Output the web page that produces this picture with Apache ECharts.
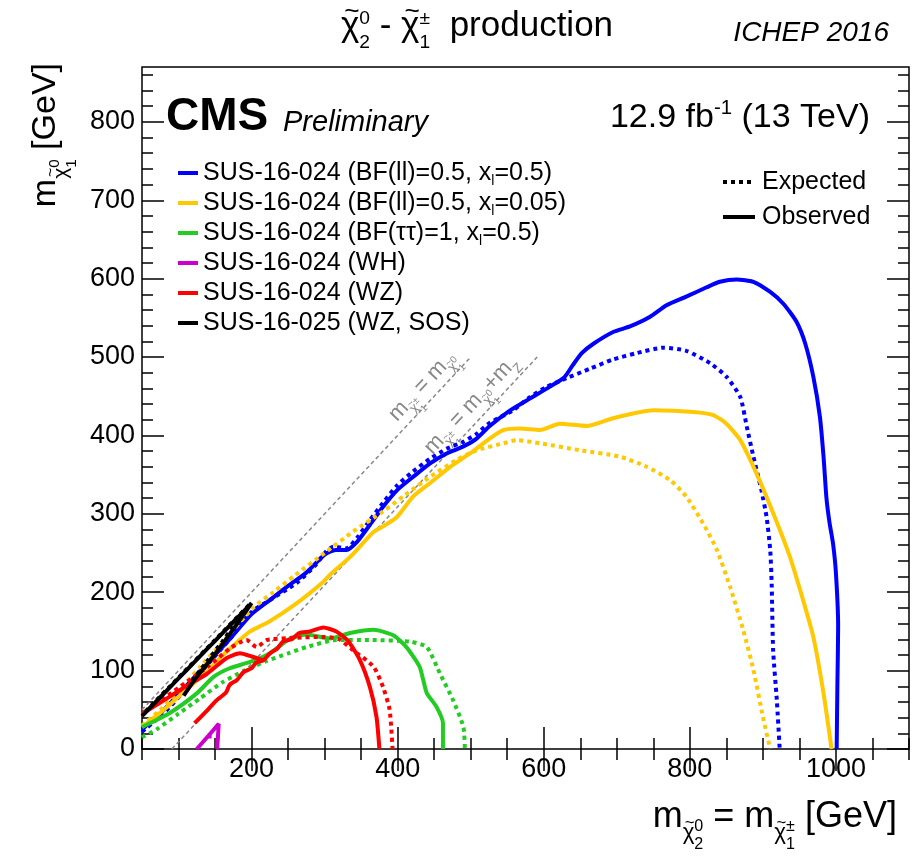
<!DOCTYPE html>
<html><head><meta charset="utf-8">
<script src="https://cdn.jsdelivr.net/npm/echarts@6/dist/echarts.min.js"></script>
<style>html,body{margin:0;padding:0;background:#fff}#c{width:917px;height:858px}</style>
</head><body><div id="c"></div>
<script>
// ---------------- data (GeV) ----------------
const xMajorTicks = [200, 400, 600, 800, 1000];
const yMajorTicks = [0, 100, 200, 300, 400, 500, 600, 700, 800];
const xRange = [50, 1100];
const yRange = [0, 870];

const legendNames = [
  'SUS-16-024 (BF(ll)=0.5, x{s|l}=0.5)',
  'SUS-16-024 (BF(ll)=0.5, x{s|l}=0.05)',
  'SUS-16-024 (BF(\u03C4\u03C4)=1, x{s|l}=0.5)',
  'SUS-16-024 (WH)',
  'SUS-16-024 (WZ)',
  'SUS-16-025 (WZ, SOS)'
];
const styleLegend = ['Expected', 'Observed'];

const blueObs = [[50,25],[80,50],[110,80],[140,110],[170,140],[200,172],[225,190],[250,208],[275,225],[300,248],[315,254],[330,254],[345,265],[362,286],[380,309],[399,330],[421,347],[444,364],[467,377],[490,386],[508,396],[526,412],[554,432],[581,447],[608,462],[628,474],[640,490],[652,505],[668,517],[695,532],[718,539],[745,551],[768,566],[795,577],[823,589],[841,596],[864,599],[887,596],[910,583],[928,568],[946,545],[958,517],[969,475],[978,424],[983,373],[987,320],[991,290],[996,262],[1000,224],[1003,156],[1002,84],[1001,0]];
const blueExp = [[50,22],[80,46],[110,76],[140,108],[170,140],[200,175],[225,190],[262,212],[289,236],[300,250],[312,258],[330,256],[345,270],[362,292],[380,314],[399,336],[421,354],[444,370],[467,383],[490,392],[508,402],[526,416],[558,432],[581,449],[604,462],[631,473],[663,485],[695,497],[727,505],[764,512],[795,508],[828,492],[850,475],[869,449],[878,411],[887,373],[898,330],[905,296],[910,254],[912,211],[914,126],[919,63],[923,0]];
const yellowObs = [[50,28],[80,50],[110,75],[140,100],[161,120],[180,136],[198,150],[225,163],[262,186],[298,213],[307,222],[335,245],[367,277],[380,284],[399,296],[421,322],[444,339],[472,360],[499,377],[526,396],[545,407],[567,409],[595,407],[622,415],[659,412],[695,422],[750,432],[805,430],[832,426],[850,415],[869,394],[891,352],[914,301],[937,245],[955,190],[969,143],[983,71],[994,0]];
const yellowExp = [[50,30],[75,50],[102,76],[130,105],[160,136],[202,180],[230,200],[260,222],[300,250],[340,278],[380,303],[410,324],[444,347],[481,369],[508,381],[545,390],[563,394],[595,390],[650,381],[704,373],[741,360],[773,343],[795,322],[818,288],[837,254],[855,207],[873,152],[887,101],[900,41],[910,0]];
const greenObs = [[50,28],[88,46],[125,71],[148,92],[170,103],[198,111],[225,122],[253,141],[276,146],[307,141],[335,148],[367,152],[394,145],[412,130],[430,105],[435,88],[440,71],[453,54],[462,33],[462,0]];
const greenExp = [[50,15],[70,25],[100,45],[130,65],[160,85],[190,100],[220,112],[250,122],[275,130],[316,139],[362,139],[417,137],[440,130],[458,96],[476,62],[490,28],[492,0]];
const magentaObs = [[125,0],[140,16],[155,32],[154,16],[153,0]];
const magentaExp = [[140,16],[158,16]];
const redObsLeft = [[50,45],[80,62],[110,80],[139,96],[166,116],[184,122],[200,118],[216,113]];
const redObs = [[122,33],[140,50],[152,62],[165,72],[170,82],[180,88],[189,98],[200,103],[206,110],[216,113],[225,122],[235,128],[243,137],[255,140],[265,148],[280,150],[298,155],[316,150],[332,138],[348,114],[362,79],[371,41],[375,0]];
const redExp = [[50,45],[100,78],[140,105],[170,128],[193,139],[207,130],[221,139],[262,142],[300,143],[320,140],[339,126],[367,105],[380,79],[389,50],[393,0]];
const blackObs = [[50,42],[75,66],[100,90],[125,114],[150,138],[175,162],[200,186],[185,166],[165,140],[145,115],[125,92],[107,68]];
const blackExp = [[55,48],[100,91],[150,139],[197,184],[180,163],[160,137],[140,113],[118,86]];
const diagLSP = [[50,50],[500,500]];
const diagZ = [[91,0],[591,500]];

// ---------------- helpers ----------------
const FONT = '"Liberation Sans", Arial, Helvetica, sans-serif';
const BLUE = '#0000ff', YELLOW = '#ffc800', GREEN = '#22cc22', MAGENTA = '#cc00cc', RED = '#ff0000', BLACK = '#000000';
const mctx = document.createElement('canvas').getContext('2d');
function fontStr(size, style, weight) { return (style || 'normal') + ' ' + (weight || 'normal') + ' ' + size + 'px ' + FONT; }
function tw(t, size, style, weight) { mctx.font = fontStr(size, style, weight); return mctx.measureText(t).width; }
function T(t, x, baseY, size, o) {
  o = o || {};
  return { type: 'text', x: x, y: baseY - 0.35 * size, silent: true,
    style: { text: t, font: fontStr(size, o.style, o.weight), fill: o.color || '#000', align: o.align || 'left', verticalAlign: 'middle' } };
}
// tokens: {t, s, dy, tilde} or {stack:[{t,s,dy},...]}; dy in units of base size (positive = down)
function formula(tokens, base, o) {
  o = o || {};
  let x = 0; const ch = [];
  tokens.forEach(tk => {
    if (tk.stack) {
      let w = 0;
      tk.stack.forEach(p => {
        const sz = base * p.s;
        ch.push(T(p.t, x, p.dy * base, sz, o));
        w = Math.max(w, tw(p.t, sz, o.style, o.weight));
      });
      x += w;
    } else {
      const sz = base * (tk.s || 1);
      const w = tw(tk.t, sz, o.style, o.weight);
      const by = (tk.dy || 0) * base;
      ch.push(T(tk.t, x, by, sz, o));
      if (tk.tilde) {
        const ts = sz * 0.75;
        ch.push({ type: 'text', x: x + w / 2 + sz * 0.05, y: by - 0.78 * sz, silent: true,
          style: { text: '~', font: fontStr(ts, o.style, o.weight), fill: o.color || '#000', align: 'center', verticalAlign: 'middle' } });
      }
      x += w;
    }
  });
  return { children: ch, width: x };
}
function chiSub(sup, sub, s) {
  s = s || 0.62;
  return [{ t: '\u03C7', s: s, dy: 0.3, tilde: true },
          { stack: [{ t: sup, s: s * 0.72, dy: 0.05 }, { t: sub, s: s * 0.72, dy: 0.57 }] }];
}

// ---------------- chart ----------------
const chart = echarts.init(document.getElementById('c'), null, { renderer: 'canvas' });

const xMinor = [], yMinor = [];
for (let v = xRange[0]; v <= xRange[1]; v += 50) if (xMajorTicks.indexOf(v) < 0) xMinor.push(v);
for (let v = 20; v < yRange[1]; v += 20) if (v % 100 !== 0) yMinor.push(v);

function mkAxis(kind, pos, ticks, len, labels) {
  const range = kind === 'x' ? xRange : yRange;
  const a = { type: 'value', min: range[0], max: range[1], position: pos,
    axisLine: { show: false }, splitLine: { show: false },
    axisTick: { show: true, inside: true, length: len, customValues: ticks, lineStyle: { color: '#000', width: 1.5 } },
    axisLabel: { show: false } };
  if (labels) {
    a.axisLabel = { show: true, customValues: labels, margin: 7, fontSize: 27, color: '#000', fontFamily: FONT,
      formatter: v => String(v) };
  }
  return a;
}

function line(name, data, color, dotted, width) {
  return { type: 'line', name: name, data: data, color: color, showSymbol: false, symbol: 'none', smooth: 0.2,
    lineStyle: { color: color, width: width || 4, type: dotted ? [4, 4] : 'solid', cap: 'butt' },
    emphasis: { disabled: true }, silent: true, z: 3 };
}

const series = [
  line('diag1', diagLSP, '#888', false, 1.5),
  line('diag2', diagZ, '#888', false, 1.5),
  line(legendNames[0], blueObs, BLUE, false),
  line('bexp', blueExp, BLUE, true),
  line(legendNames[1], yellowObs, YELLOW, false),
  line('yexp', yellowExp, YELLOW, true),
  line(legendNames[2], greenObs, GREEN, false),
  line('gexp', greenExp, GREEN, true),
  line(legendNames[3], magentaObs, MAGENTA, false),
  line('mexp', magentaExp, MAGENTA, true),
  line(legendNames[4], redObs, RED, false),
  line('robsl', redObsLeft, RED, false),
  line('rexp', redExp, RED, true),
  line(legendNames[5], blackObs, BLACK, false),
  line('kexp', blackExp, BLACK, true)
];
series[0].lineStyle.type = [4, 3];
series[1].lineStyle.type = [4, 3];
series[0].smooth = false; series[1].smooth = false;

const option = {
  animation: false,
  backgroundColor: '#fff',
  grid: { left: 142, right: 8, top: 67, bottom: 109, show: true, borderColor: '#000', borderWidth: 1.5, backgroundColor: 'transparent' },
  xAxis: [mkAxis('x', 'bottom', xMajorTicks, 22, xMajorTicks), mkAxis('x', 'bottom', xMinor, 11),
          mkAxis('x', 'top', xMajorTicks, 22), mkAxis('x', 'top', xMinor, 11)],
  yAxis: [mkAxis('y', 'left', yMajorTicks, 22, yMajorTicks), mkAxis('y', 'left', yMinor, 11),
          mkAxis('y', 'right', yMajorTicks, 22), mkAxis('y', 'right', yMinor, 11)],
  legend: [
    { data: legendNames, orient: 'vertical', left: 173, top: 153, itemWidth: 20, itemHeight: 4, itemGap: 0,
      icon: 'rect', selectedMode: false,
      textStyle: { fontSize: 25, fontFamily: FONT, color: '#000', lineHeight: 30,
        rich: { s: { fontSize: 14, fontFamily: FONT, lineHeight: 30, verticalAlign: 'bottom', color: '#000' } } } }
  ],
  series: series
};
chart.setOption(option);

// ---------------- text (titles etc.) ----------------
const g = [];
// title
const ttl = formula([{ t: '\u03C7', tilde: true }, { stack: [{ t: '0', s: 0.55, dy: -0.38 }, { t: '2', s: 0.55, dy: 0.3 }] },
  { t: ' - ' }, { t: '\u03C7', tilde: true }, { stack: [{ t: '\u00B1', s: 0.55, dy: -0.38 }, { t: '1', s: 0.55, dy: 0.3 }] },
  { t: '  production' }], 35);
g.push({ type: 'group', x: 477 - ttl.width / 2, y: 39, children: ttl.children });
g.push(T('ICHEP 2016', 889, 43, 28, { style: 'italic', align: 'right' }));
// CMS Preliminary
g.push(T('CMS', 166, 133, 46, { weight: 'bold' }));
g.push(T('Preliminary', 283, 133, 29, { style: 'italic' }));
// lumi
const lumi = formula([{ t: '12.9 fb' }, { t: '-1', s: 0.6, dy: -0.42 }, { t: ' (13 TeV)' }], 34);
g.push({ type: 'group', x: 870 - lumi.width, y: 130, children: lumi.children });
// Expected / Observed key
g.push({ type: 'line', silent: true, shape: { x1: 723, y1: 182, x2: 755, y2: 182 }, style: { stroke: BLACK, lineWidth: 4, lineDash: [4, 4] } });
g.push({ type: 'line', silent: true, shape: { x1: 723, y1: 217, x2: 755, y2: 217 }, style: { stroke: BLACK, lineWidth: 4 } });
g.push(T(styleLegend[0], 762, 182 + 0.35 * 25, 25));
g.push(T(styleLegend[1], 762, 217 + 0.35 * 25, 25));
// x title
const xt = formula([{ t: 'm' }].concat(chiSub('0', '2')).concat([{ t: ' = m' }]).concat(chiSub('\u00B1', '1')).concat([{ t: ' [GeV]' }]), 36);
g.push({ type: 'group', x: 897 - xt.width, y: 830, children: xt.children });
// y title
const yt = formula([{ t: 'm' }].concat(chiSub('0', '1')).concat([{ t: ' [GeV]' }]), 34);
g.push({ type: 'group', x: 58, y: 63 + yt.width, rotation: Math.PI / 2, children: yt.children });

// diagonal labels
function diagLabel(tokens, endPt, off) {
  const f = formula(tokens, 22, { color: '#888' });
  const p0 = chart.convertToPixel({ gridIndex: 0 }, [endPt[0] - 100, endPt[1] - 100]);
  const p1 = chart.convertToPixel({ gridIndex: 0 }, endPt);
  const ang = Math.atan2(p0[1] - p1[1], p1[0] - p0[0]);
  const c = Math.cos(ang), s = Math.sin(ang);
  const ex = p1[0] - off * s, ey = p1[1] - off * c;
  return { type: 'group', x: ex - f.width * c, y: ey + f.width * s, rotation: ang, children: f.children };
}
g.push(diagLabel([{ t: 'm' }].concat(chiSub('\u00B1', '1')).concat([{ t: ' = m' }]).concat(chiSub('0', '1')), [490, 490], 8));
g.push(diagLabel([{ t: 'm' }].concat(chiSub('\u00B1', '1')).concat([{ t: ' = m' }]).concat(chiSub('0', '1')).concat([{ t: '+m' }, { t: 'Z', s: 0.6, dy: 0.3 }]), [575, 484], 8));

chart.setOption({ graphic: g });
</script>
</body></html>
